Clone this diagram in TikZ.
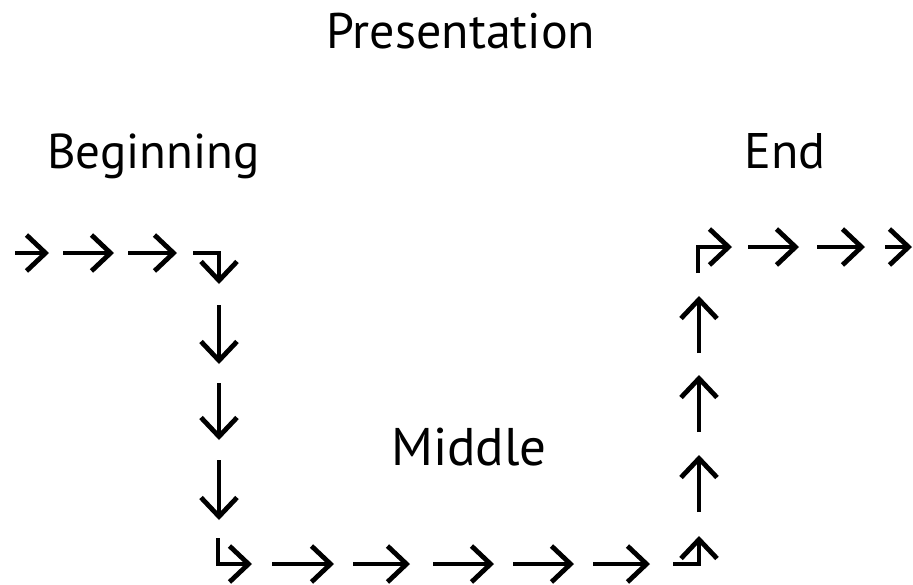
\documentclass[tikz,border=0pt]{standalone}
\usepackage{fontspec}
\setmainfont{PT Sans}
\usetikzlibrary{arrows.meta}
\begin{document}
\begin{tikzpicture}[x=1pt,y=-1pt,
  arr/.style={line width=4.8pt,-{Straight Barb[length=19pt,width=36pt,line cap=butt]}},
  lbl/.style={inner sep=0pt,font=\fontsize{50}{52}\selectfont}]
\useasboundingbox (0,0) rectangle (913,584);
% labels
\node[lbl,anchor=base] (pres) at (461,48) {Presentation};
\node[lbl,anchor=base west,font=\fontsize{49}{51}\selectfont] (beg) at (47,168) {Beginning};
\node[lbl,anchor=base west] (end) at (744,168) {End};
\node[lbl,anchor=base west,font=\fontsize{53}{55}\selectfont] (mid) at (391,465) {Middle};
% top left row
\coordinate (a1s) at (15,253);  \coordinate (a1e) at (49,253);
\coordinate (a2s) at (63,253);  \coordinate (a2e) at (114,253);
\coordinate (a3s) at (128,253); \coordinate (a3e) at (177,253);
\draw[arr] (a1s) -- (a1e);
\draw[arr] (a2s) -- (a2e);
\draw[arr] (a3s) -- (a3e);
\coordinate (c1s) at (193,253); \coordinate (c1m) at (219,253); \coordinate (c1e) at (219,284);
\draw[arr,line join=miter] (c1s) -- (c1m) -- (c1e);
% down column
\coordinate (d1s) at (219,305); \coordinate (d1e) at (219,364);
\coordinate (d2s) at (219,383); \coordinate (d2e) at (219,440);
\coordinate (d3s) at (219,460); \coordinate (d3e) at (219,520);
\draw[arr] (d1s) -- (d1e);
\draw[arr] (d2s) -- (d2e);
\draw[arr] (d3s) -- (d3e);
\coordinate (c2s) at (218,538); \coordinate (c2m) at (218,564); \coordinate (c2e) at (252,564);
\draw[arr,line join=miter] (c2s) -- (c2m) -- (c2e);
% bottom row
\coordinate (b1s) at (272,564); \coordinate (b1e) at (334,564);
\coordinate (b2s) at (353,564); \coordinate (b2e) at (410,564);
\coordinate (b3s) at (433,564); \coordinate (b3e) at (494,564);
\coordinate (b4s) at (513,564); \coordinate (b4e) at (574,564);
\coordinate (b5s) at (593,564); \coordinate (b5e) at (650,564);
\draw[arr] (b1s) -- (b1e);
\draw[arr] (b2s) -- (b2e);
\draw[arr] (b3s) -- (b3e);
\draw[arr] (b4s) -- (b4e);
\draw[arr] (b5s) -- (b5e);
\coordinate (c3s) at (673,564); \coordinate (c3m) at (699,564); \coordinate (c3e) at (699,536);
\draw[arr,line join=miter] (c3s) -- (c3m) -- (c3e);
% up column
\coordinate (u3s) at (699,512); \coordinate (u3e) at (699,455);
\coordinate (u2s) at (699,432); \coordinate (u2e) at (699,375);
\coordinate (u1s) at (699,353); \coordinate (u1e) at (699,296);
\draw[arr] (u3s) -- (u3e);
\draw[arr] (u2s) -- (u2e);
\draw[arr] (u1s) -- (u1e);
\coordinate (c4s) at (698,273); \coordinate (c4m) at (698,247); \coordinate (c4e) at (732,247);
\draw[arr,line join=miter] (c4s) -- (c4m) -- (c4e);
% top right row
\coordinate (r1s) at (748,247); \coordinate (r1e) at (799,247);
\coordinate (r2s) at (817,247); \coordinate (r2e) at (865,247);
\coordinate (r3s) at (885,247); \coordinate (r3e) at (912,247);
\draw[arr] (r1s) -- (r1e);
\draw[arr] (r2s) -- (r2e);
\draw[arr] (r3s) -- (r3e);
\end{tikzpicture}
\end{document}
